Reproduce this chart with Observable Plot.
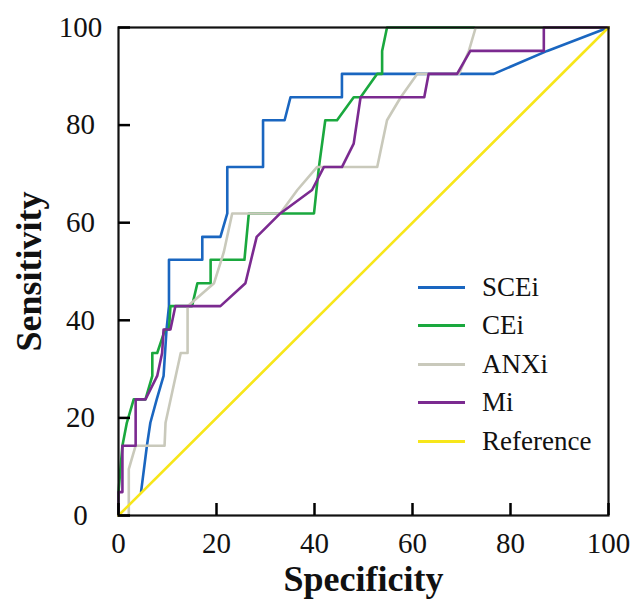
<!DOCTYPE html>
<html>
<head>
<meta charset="utf-8">
<script src="https://cdn.jsdelivr.net/npm/d3@7"></script>
<script src="https://cdn.jsdelivr.net/npm/@observablehq/plot@0.6"></script>
<style>
  html, body { margin: 0; padding: 0; background: #fff; }
  #wrap { position: relative; width: 634px; height: 603px; }
  #legend { position: absolute; left: 418px; top: 268px; font-family: "Liberation Serif", "Times New Roman", serif; font-size: 27px; color: #111; }
  .row { display: flex; align-items: center; height: 38.5px; }
  .sw { width: 47px; height: 3px; margin-right: 17px; }
</style>
</head>
<body>
<div id="wrap"><div id="legend"></div></div>
<script>
const seriesNames = ["SCEi", "CEi", "ANXi", "Mi", "Reference"];
const seriesColors = ["#1a66c0", "#1aa83e", "#c9c9bb", "#7b2a90", "#f7e61a"];

const sceiSpec = [4.6, 5.8, 6.5, 7.8, 9.2, 9.8, 10.3, 10.3, 17.1, 17.1, 20.8, 22.2, 22.2, 29.5, 29.5, 33.9, 35.1, 45.6, 45.6, 76.6, 87.5, 100];
const sceiSens = [4.8, 14.3, 19.0, 23.8, 28.6, 38.1, 42.9, 52.4, 52.4, 57.1, 57.1, 61.9, 71.4, 71.4, 81.0, 81.0, 85.7, 85.7, 90.5, 90.5, 95.2, 100];

const ceiSpec = [0, 0, 0.8, 1.7, 3.1, 5.5, 6.9, 6.9, 7.9, 9.5, 10.3, 10.6, 15.0, 16.1, 18.8, 18.8, 25.7, 26.6, 39.9, 40.9, 42.2, 44.6, 48.0, 49.4, 52.8, 53.8, 53.8, 54.8, 100];
const ceiSens = [0, 4.8, 14.3, 19.0, 23.8, 23.8, 28.6, 33.3, 33.3, 38.1, 38.1, 42.9, 42.9, 47.6, 47.6, 52.4, 52.4, 61.9, 61.9, 71.4, 81.0, 81.0, 85.7, 85.7, 90.5, 90.5, 95.2, 100, 100];

const anxiSpec = [0, 2.1, 2.1, 3.5, 9.4, 9.6, 12.7, 14.1, 14.1, 19.5, 21.5, 23.2, 33.0, 36.5, 40.5, 52.8, 54.8, 57.6, 61.0, 69.5, 71.5, 72.9, 100];
const anxiSens = [0, 0, 9.5, 14.3, 14.3, 19.0, 33.3, 33.3, 42.9, 47.6, 54.0, 61.9, 61.9, 66.7, 71.4, 71.4, 81.0, 85.7, 90.5, 90.5, 95.2, 100, 100];

const miSpec = [0, 0, 0.8, 0.8, 3.5, 3.5, 5.5, 7.9, 8.9, 9.2, 10.6, 11.6, 20.8, 25.9, 28.2, 33.0, 39.5, 41.9, 45.6, 48.0, 49.4, 62.4, 63.3, 69.1, 71.8, 86.8, 86.8, 100];
const miSens = [0, 4.8, 4.8, 14.3, 14.3, 23.8, 23.8, 28.6, 33.3, 38.1, 38.1, 42.9, 42.9, 47.6, 57.1, 61.9, 66.7, 71.4, 71.4, 76.2, 85.7, 85.7, 90.5, 90.5, 95.2, 95.2, 100, 100];

const refSpec = [0, 100];
const refSens = [0, 100];

const xTicks = [0, 20, 40, 60, 80, 100];
const yTicks = [0, 20, 40, 60, 80, 100];

const allSpec = [sceiSpec, ceiSpec, anxiSpec, miSpec, refSpec];
const allSens = [sceiSens, ceiSens, anxiSens, miSens, refSens];
const rows = [];
seriesNames.forEach((name, i) => {
  allSpec[i].forEach((x, j) => rows.push({series: name, spec: x, sens: allSens[i][j]}));
});

const font = "Liberation Serif, Times New Roman, serif";
const W = 634, H = 603, mT = 27, mR = 26, mB = 88, mL = 118;
const xDomain = [0, 100], yDomain = [0, 100];
const tickLen = 12; // px
const tickLenX = tickLen * (xDomain[1] - xDomain[0]) / (W - mL - mR);
const tickLenY = tickLen * (yDomain[1] - yDomain[0]) / (H - mT - mB);

const chart = Plot.plot({
  width: W,
  height: H,
  marginTop: mT,
  marginRight: mR,
  marginBottom: mB,
  marginLeft: mL,
  style: {fontFamily: font, background: "#fff", color: "#111"},
  x: {domain: xDomain},
  y: {domain: yDomain},
  color: {domain: seriesNames, range: seriesColors},
  marks: [
    Plot.line(rows, {x: "spec", y: "sens", z: "series", stroke: "series", strokeWidth: 2.6, curve: "linear"}),
    Plot.frame({stroke: "#111", strokeWidth: 2.2}),
    Plot.ruleX(xTicks, {x: d => d, y1: () => yDomain[0], y2: () => yDomain[0] + tickLenY, stroke: "#000", strokeWidth: 2.5}),
    Plot.ruleY(yTicks, {y: d => d, x1: () => xDomain[0], x2: () => xDomain[0] + tickLenX, stroke: "#000", strokeWidth: 2.5}),
    Plot.axisX({ticks: xTicks, tickSize: 0, tickPadding: 17, fontSize: 29, tickFormat: d => String(d),
      stroke: "#111", strokeWidth: 0.5, label: "Specificity", labelAnchor: "center", labelOffset: 75, labelArrow: "none"}),
    Plot.axisY({ticks: yTicks, tickSize: 0, tickPadding: 38, fontSize: 29, textAnchor: "middle", tickFormat: d => String(d),
      stroke: "#111", strokeWidth: 0.5, label: "Sensitivity", labelAnchor: "center", labelOffset: 103, labelArrow: "none"})
  ]
});

chart.querySelectorAll("g[aria-label='x-axis label'], g[aria-label='y-axis label']").forEach(g => {
  g.setAttribute("font-size", "36");
  g.setAttribute("font-weight", "bold");
  g.setAttribute("stroke", "none");
  g.querySelectorAll("text").forEach(t => { t.setAttribute("font-size", "36"); t.setAttribute("font-weight", "bold"); });
});

document.getElementById("wrap").prepend(chart);

const legend = document.getElementById("legend");
seriesNames.forEach((name, i) => {
  const r = document.createElement("div");
  r.className = "row";
  const s = document.createElement("div");
  s.className = "sw";
  s.style.background = seriesColors[i];
  const t = document.createElement("span");
  t.textContent = name;
  r.appendChild(s);
  r.appendChild(t);
  legend.appendChild(r);
});
</script>
</body>
</html>
